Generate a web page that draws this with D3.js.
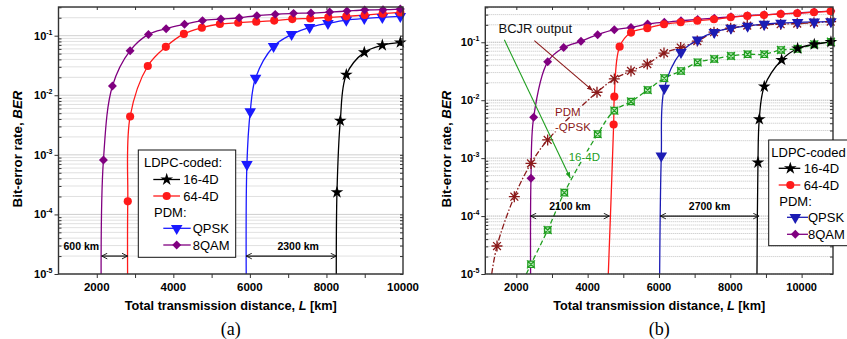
<!DOCTYPE html>
<meta charset="utf-8">
<head>
    <script type="text/javascript" src="https://cdn.jsdelivr.net/npm/d3@7"></script>
    <style>
        body { margin: 0; background: #fff; }
        svg { font-family: Arial, "Liberation Sans", sans-serif; }
        .grid line { stroke: #9a9a9a; stroke-width: 0.7; stroke-dasharray: 1,1; }
        .axis path { display: none; }
        .axis line { stroke: #333; stroke-width: 1; }
        .frame { fill: none; stroke: #333; stroke-width: 1.4; }
    </style>
    <title></title>
</head>
<body>
<script>
    // ---------- panel (a) ----------
    var aDist16 = [8275, 8362, 8519, 8989, 9460, 9930];
    var aBer16  = [2.35e-4, 3.74e-3, 0.0221, 0.0525, 0.069, 0.077];
    var aDist64 = [2810, 2871, 3333, 3804, 4275, 4745, 5216, 5695, 6166, 6636, 7107, 7577, 8048, 8519, 8998, 9468, 9930];
    var aBer64  = [1.66e-4, 4.4e-3, 0.031, 0.065, 0.107, 0.136, 0.157, 0.165, 0.172, 0.179, 0.19, 0.195, 0.203, 0.211, 0.222, 0.234, 0.246];
    var aDistQ  = [5922, 6009, 6148, 6619, 7089, 7560, 8039, 8519, 8989, 9460, 9930];
    var aBerQ   = [6.9e-4, 5.3e-3, 0.0195, 0.066, 0.105, 0.138, 0.161, 0.183, 0.195, 0.203, 0.211];
    var aDist8  = [2174, 2409, 2871, 3350, 3812, 4292, 4762, 5242, 5721, 6183, 6662, 7141, 7595, 8083, 8536, 8998, 9477, 9930];
    var aBer8   = [8.2e-4, 0.0143, 0.056, 0.105, 0.131, 0.155, 0.179, 0.19, 0.2, 0.217, 0.228, 0.237, 0.24, 0.249, 0.259, 0.27, 0.273, 0.28];
    // where each curve leaves the bottom of the plot (BER = 1e-5)
    var aStart  = {s16: 8257, s64: 2805, q: 5904, q8: 2113};

    // ---------- panel (b) ----------
    var bDist16 = [8776, 8813, 8953, 9439, 9888, 10355, 10822];
    var bBer16  = [8.4e-4, 4.7e-3, 0.0172, 0.0495, 0.078, 0.092, 0.101];
    var bDist64 = [4729, 4748, 4897, 5216, 5673, 6141, 6609, 7075, 7543, 8011, 8476, 8944, 9412, 9877, 10346, 10814];
    var bBer64  = [3.8e-3, 0.0115, 0.084, 0.147, 0.175, 0.205, 0.221, 0.236, 0.249, 0.27, 0.285, 0.296, 0.308, 0.317, 0.33, 0.343];
    var bDistQ  = [6065, 6150, 6617, 7084, 7551, 8019, 8486, 8953, 9421, 9888, 10355, 10822];
    var bBerQ   = [1.1e-3, 0.0161, 0.067, 0.11, 0.149, 0.175, 0.191, 0.205, 0.215, 0.22, 0.224, 0.228];
    var bDist8  = [2411, 2486, 2879, 3327, 3813, 4280, 4748, 5215, 5682, 6150, 6617, 7084, 7551, 8019, 8486, 8953, 9421, 9888, 10355, 10822];
    var bBer8   = [4.5e-4, 5.07e-3, 0.046, 0.081, 0.104, 0.135, 0.165, 0.18, 0.207, 0.222, 0.235, 0.248, 0.26, 0.275, 0.288, 0.298, 0.31, 0.32, 0.333, 0.346];
    // BCJR output curves
    var bDistBq = [1458, 1944, 2411, 2879, 4262, 4748, 5215, 5673, 6141, 6609, 7075, 7543, 8011, 8476, 8944, 9412, 9877, 10346, 10814];
    var bBerBq  = [3.04e-5, 2.16e-4, 8.1e-4, 2.06e-3, 0.0137, 0.0233, 0.032, 0.042, 0.065, 0.081, 0.105, 0.149, 0.175, 0.194, 0.2, 0.205, 0.21, 0.218, 0.227];
    var bDistB16 = [2411, 2879, 3346, 4280, 4748, 5215, 5682, 6150, 6617, 7084, 7551, 8019, 8486, 8953, 9421, 9888, 10355, 10822];
    var bBerB16  = [1.47e-5, 5.75e-5, 2.54e-4, 2.6e-3, 6.6e-3, 9.5e-3, 0.015, 0.024, 0.032, 0.045, 0.0515, 0.058, 0.062, 0.062, 0.0736, 0.077, 0.092, 0.102];
    var bStart  = {s16: 8748, s64: 4579, q: 6019, q8: 2400, bq: 1310, b16: 2280};

    var xTicks = [2000, 4000, 6000, 8000, 10000];
    var legendLabels = ["16-4D", "64-4D", "QPSK", "8QAM"];

    var svg = d3.select("body").append("svg")
        .attr("width", 847).attr("height", 339);

    var defs = svg.append("defs");
    function headMarker(id, color, open) {
        var m = defs.append("marker").attr("id", id)
            .attr("viewBox", "0 -5 10 10").attr("refX", open ? 9 : 10).attr("refY", 0)
            .attr("markerWidth", open ? 7 : 6).attr("markerHeight", open ? 7 : 6)
            .attr("markerUnits", "userSpaceOnUse").attr("orient", "auto-start-reverse");
        if (open) m.append("path").attr("d", "M1,-4L9,0L1,4").attr("fill", "none").attr("stroke", color).attr("stroke-width", 1.3);
        else m.append("path").attr("d", "M0,-4L10,0L0,4Z").attr("fill", color);
    }
    headMarker("openHead", "#111", true);
    headMarker("redHead", "#8b1a1a", false);
    headMarker("greenHead", "#1f9e1f", false);

    function symbolPath(type) {
        if (type == "star") return d3.symbol(d3.symbolStar, 50)();
        if (type == "circle") return d3.symbol(d3.symbolCircle, 52)();
        if (type == "tri") return d3.symbol(d3.symbolTriangle, 58)();
        if (type == "diamond") return d3.symbol(d3.symbolSquare, 40)();
        if (type == "aster") return "M-5.5,0H5.5M0,-5.5V5.5M-3.9,-3.9L3.9,3.9M-3.9,3.9L3.9,-3.9";
        if (type == "boxx") return "M-3.2,-3.2H3.2V3.2H-3.2ZM-4,-4L4,4M-4,4L4,-4";
    }
    function drawSymbol(g, type, color, px, py) {
        var p = g.append("path").attr("d", symbolPath(type));
        var tr = "translate(" + px + "," + py + ")";
        if (type == "tri") tr += " rotate(180)";
        if (type == "diamond") tr += " rotate(45)";
        p.attr("transform", tr);
        if (type == "aster") p.attr("fill", "none").attr("stroke", color).attr("stroke-width", 1.3);
        else if (type == "boxx") p.attr("fill", "#bfe8bf").attr("stroke", color).attr("stroke-width", 1.2);
        else p.attr("fill", color);
    }

    function makePanel(cfg) {
        var g = svg.append("g");
        var x = d3.scaleLinear().domain(cfg.xDomain).range([cfg.left, cfg.right]);
        var y = d3.scaleLog().domain(cfg.yDomain).range([cfg.bottom, cfg.top]);
        var w = cfg.right - cfg.left, h = cfg.bottom - cfg.top;

        var decades = [1e-5, 1e-4, 1e-3, 1e-2, 1e-1];
        var minors = [];
        decades.forEach(function(d) {
            for (var m = 2; m < 10; m++) if (d * m <= cfg.yDomain[1]) minors.push(d * m);
        });
        var xMinor = d3.range(1000, 11001, 1000).filter(function(v) {
            return v > cfg.xDomain[0] && v < cfg.xDomain[1];
        });

        // grid
        g.append("g").attr("class", "grid")
            .selectAll("line").data(decades.concat(minors)).enter().append("line")
            .attr("x1", cfg.left).attr("x2", cfg.right)
            .attr("y1", function(d) { return y(d); }).attr("y2", function(d) { return y(d); })
            .style("stroke", function(d) { return decades.indexOf(d) >= 0 ? "#777" : "#a8a8a8"; });

        // axes
        g.append("g").attr("class", "axis").attr("transform", "translate(0," + cfg.bottom + ")")
            .call(d3.axisBottom(x).tickValues(xMinor).tickSize(4).tickFormat(""));
        g.append("g").attr("class", "axis").attr("transform", "translate(0," + cfg.top + ")")
            .call(d3.axisTop(x).tickValues(xMinor).tickSize(-3).tickFormat(""));
        g.append("g").attr("class", "axis").attr("transform", "translate(" + cfg.left + ",0)")
            .call(d3.axisLeft(y).tickValues(decades).tickSize(4).tickFormat(""));
        g.append("g").attr("class", "axis").attr("transform", "translate(" + cfg.left + ",0)")
            .call(d3.axisLeft(y).tickValues(minors).tickSize(-3).tickFormat(""));
        g.append("g").attr("class", "axis").attr("transform", "translate(" + cfg.right + ",0)")
            .call(d3.axisRight(y).tickValues(decades.concat(minors)).tickSize(-3).tickFormat(""));

        g.selectAll(".xlab").data(xTicks).enter().append("text")
            .attr("x", function(d) { return x(d); }).attr("y", cfg.bottom + 17)
            .attr("text-anchor", "middle").style("font-weight", "bold").style("font-size", cfg.tickFont + "px")
            .text(function(d) { return d; });
        var yl = g.selectAll(".ylab").data(decades).enter().append("text")
            .attr("x", cfg.left - 6).attr("y", function(d) { return y(d) + 4; })
            .attr("text-anchor", "end").style("font-weight", "bold").style("font-size", "11px");
        yl.append("tspan").text("10");
        yl.append("tspan").attr("dy", -5).style("font-size", "7px")
            .text(function(d) { return Math.round(Math.log10(d)); });

        // axis titles
        var xt = g.append("text").attr("x", (cfg.left + cfg.right) / 2).attr("y", 310)
            .attr("text-anchor", "middle").style("font-weight", "bold").style("font-size", "12.7px");
        xt.append("tspan").text("Total transmission distance, ");
        xt.append("tspan").style("font-style", "italic").text("L");
        xt.append("tspan").text(" [km]");
        var yt = g.append("text").attr("transform", "translate(" + cfg.yTitleX + ",149) rotate(-90)")
            .attr("text-anchor", "middle").style("font-weight", "bold").style("font-size", "13.3px");
        yt.append("tspan").text("Bit-error rate, ");
        yt.append("tspan").style("font-style", "italic").text("BER");

        g.append("text").attr("x", (cfg.left + cfg.right) / 2).attr("y", 335)
            .attr("text-anchor", "middle").style("font-family", "'Liberation Serif', 'Times New Roman', serif")
            .style("font-size", "18px").text(cfg.tag);

        // series
        var clipId = "clip" + cfg.tag.replace(/\W/g, "");
        defs.append("clipPath").attr("id", clipId).append("rect")
            .attr("x", cfg.left).attr("y", cfg.top).attr("width", w).attr("height", h);
        var line = d3.line().x(function(d) { return x(d[0]); }).y(function(d) { return y(d[1]); })
            .curve(d3.curveCatmullRom.alpha(0.5));
        var lines = g.append("g").attr("clip-path", "url(#" + clipId + ")");
        var marks = g.append("g");
        cfg.series.forEach(function(s) {
            var pts = s.x.map(function(v, i) { return [v, s.y[i]]; });
            var full = (s.start ? [[s.start, cfg.yDomain[0]]] : []).concat(pts);
            lines.append("path").attr("d", line(full)).attr("fill", "none")
                .attr("stroke", s.color).attr("stroke-width", 1.3)
                .attr("stroke-dasharray", s.dash || null);
            pts.forEach(function(p) { drawSymbol(marks, s.sym, s.color, x(p[0]), y(p[1])); });
        });

        // distance arrows
        cfg.spans.forEach(function(a) {
            g.append("line").attr("x1", x(a.from)).attr("x2", x(a.to)).attr("y1", y(a.ber)).attr("y2", y(a.ber))
                .attr("stroke", "#111").attr("stroke-width", 1.2)
                .attr("marker-start", "url(#openHead)").attr("marker-end", "url(#openHead)");
            g.append("text").attr("x", a.tx == null ? x((a.from + a.to) / 2) : x(a.tx))
                .attr("y", y(a.ber) - 6).attr("text-anchor", a.anchor || "middle")
                .style("font-weight", "bold").style("font-size", "10.5px").text(a.label);
        });

        g.append("rect").attr("class", "frame").attr("x", cfg.left).attr("y", cfg.top)
            .attr("width", w).attr("height", h);
        return {g: g, x: x, y: y};
    }

    function drawLegend(box, items) {
        var lg = svg.append("g");
        lg.append("rect").attr("x", box.x).attr("y", box.y).attr("width", box.w).attr("height", box.h)
            .attr("fill", "#fff").attr("stroke", "#111").attr("stroke-width", 1);
        lg.append("text").attr("x", box.headX).attr("y", box.rows[0] + 4.5).style("font-size", "13px").text(box.head1);
        lg.append("text").attr("x", box.pdmX).attr("y", box.rows[3] + 4.5).style("font-size", "13px").text("PDM:");
        var rowIdx = [1, 2, 4, 5];
        items.forEach(function(s, i) {
            var cy = box.rows[rowIdx[i]];
            var o = i < 2 ? box.a : box.b;
            lg.append("line").attr("x1", o[0]).attr("x2", o[2]).attr("y1", cy).attr("y2", cy)
                .attr("stroke", s.color).attr("stroke-width", 1.3);
            drawSymbol(lg, s.sym, s.color, o[1], cy);
            lg.append("text").attr("x", o[3]).attr("y", cy + 4.5).style("font-size", "13px").text(legendLabels[i]);
        });
    }

    // ---------- build panel (a) ----------
    var serA = [
        {x: aDist16, y: aBer16, start: aStart.s16, color: "#000", sym: "star"},
        {x: aDistQ, y: aBerQ, start: aStart.q, color: "#1a1aff", sym: "tri"},
        {x: aDist64, y: aBer64, start: aStart.s64, color: "#ff1a1a", sym: "circle"},
        {x: aDist8, y: aBer8, start: aStart.q8, color: "#800080", sym: "diamond"}
    ];
    var pa = makePanel({
        tag: "(a)", left: 58.5, right: 403, top: 7, bottom: 274,
        xDomain: [1000, 10000], yDomain: [1e-5, 0.303], tickFont: 11.5, yTitleX: 22,
        series: serA,
        spans: [
            {from: aStart.q8 + 15, to: aStart.s64, ber: 2e-5, label: "600 km", tx: 1130, anchor: "start"},
            {from: aStart.q, to: aStart.s16, ber: 2e-5, label: "2300 km", tx: 7260}
        ]
    });
    drawLegend({x: 138.3, y: 150, w: 97.4, h: 107.3, headX: 144, pdmX: 154, head1: "LDPC-coded:",
                rows: [162.7, 179.5, 196, 212, 228.3, 245],
                a: [153.3, 166.7, 180, 183.3], b: [163.3, 176.7, 190.7, 192.7]},
        [serA[0], serA[2], serA[1], serA[3]]);

    // ---------- build panel (b) ----------
    var serB = [
        {x: bDistBq, y: bBerBq, start: bStart.bq, color: "#8b1a1a", sym: "aster", dash: "6,2,1.5,2"},
        {x: bDistB16, y: bBerB16, start: bStart.b16, color: "#1f9e1f", sym: "boxx", dash: "5,3"},
        {x: bDist16, y: bBer16, start: bStart.s16, color: "#000", sym: "star"},
        {x: bDistQ, y: bBerQ, start: bStart.q, color: "#1c1cb4", sym: "tri"},
        {x: bDist8, y: bBer8, start: bStart.q8, color: "#800080", sym: "diamond"},
        {x: bDist64, y: bBer64, start: bStart.s64, color: "#ff1a1a", sym: "circle"}
    ];
    var pb = makePanel({
        tag: "(b)", left: 485.3, right: 833, top: 7, bottom: 274,
        xDomain: [1130, 10880], yDomain: [1e-5, 0.406], tickFont: 11, yTitleX: 451,
        series: serB,
        spans: [
            {from: 2400, to: bStart.s64 + 30, ber: 1e-4, label: "2100 km"},
            {from: 6037, to: 8800, ber: 1e-4, label: "2700 km"}
        ]
    });

    // BCJR annotations
    var ax = pb.x, ay = pb.y;
    function label(txt, xv, yv, color) {
        var t = pb.g.append("text").attr("x", ax(xv)).attr("y", yv).style("font-size", "11.5px")
            .attr("fill", color).text(txt);
        var bb = t.node().getBBox();
        pb.g.insert("rect", function() { return t.node(); })
            .attr("x", bb.x - 1).attr("y", bb.y + 1).attr("width", bb.width + 2).attr("height", bb.height - 2)
            .attr("fill", "#fff");
    }
    label("PDM", 3085, 115.5, "#8b1a1a");
    label("-QPSK", 3085, 130.5, "#8b1a1a");
    label("16-4D", 3469, 160.5, "#1f9e1f");
    pb.g.append("line").attr("x1", ax(2505)).attr("y1", ay(0.107)).attr("x2", ax(4142)).attr("y2", ay(0.0146))
        .attr("stroke", "#8b1a1a").attr("stroke-width", 1.1).attr("marker-end", "url(#redHead)");
    pb.g.append("line").attr("x1", ax(1664)).attr("y1", ay(0.11)).attr("x2", ax(3514)).attr("y2", ay(4.5e-4))
        .attr("stroke", "#1f9e1f").attr("stroke-width", 1.1).attr("marker-end", "url(#greenHead)");
    pb.g.append("text").attr("x", ax(1500)).attr("y", 33).style("font-size", "13px").attr("fill", "#111")
        .text("BCJR output");

    drawLegend({x: 768.7, y: 140, w: 90, h: 105.7, headX: 771.3, pdmX: 779.3, head1: "LDPC-coded",
                rows: [152.3, 168.3, 185, 201, 217.3, 234.3],
                a: [778.7, 790.3, 800.3, 803.7], b: [787, 795.3, 808, 808]},
        [serB[2], serB[5], serB[3], serB[4]]);
</script>
</body>
</html>
